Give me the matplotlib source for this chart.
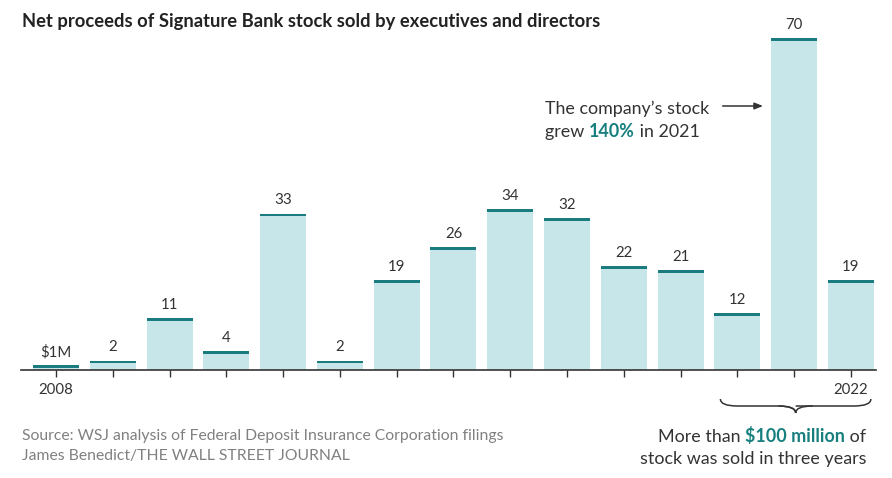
import numpy as np
import matplotlib.pyplot as plt
from matplotlib.path import Path
from matplotlib.patches import PathPatch
from matplotlib.transforms import IdentityTransform, blended_transform_factory

years = list(range(2008, 2023))
proceeds = [1, 2, 11, 4, 33, 2, 19, 26, 34, 32, 22, 21, 12, 70, 19]
labels = ['$1M', '2', '11', '4', '33', '2', '19', '26', '34', '32', '22', '21', '12', '70', '19']
tick_labels = {2008: '2008', 2022: '2022'}

bar_color = '#c6e6ea'
top_color = '#1b7c80'
text_color = '#333333'
teal = '#17807f'
font = 'Lato'

W, H = 892, 478
fig = plt.figure(figsize=(W / 100, H / 100), dpi=100)
ax = fig.add_axes([21 / W, (H - 370) / H, (876 - 21) / W, (370 - 30) / H])

x = np.arange(len(years))
ax.bar(x, proceeds, width=0.81, color=bar_color, zorder=1)
ax.bar(x, [0.6] * len(x), bottom=np.array(proceeds) - 0.6, width=0.81, color=top_color, zorder=2)
for xi, v, lab in zip(x, proceeds, labels):
    ax.text(xi, v + 1.3, lab, ha='center', va='bottom', fontsize=10.8,
            family=font, color=text_color)

ax.set_xlim(-0.616, 14.44)
ax.set_ylim(0, 71.7)
ax.set_xticks(x)
ax.set_xticklabels([tick_labels.get(y, '') for y in years], family=font, fontsize=10.8, color=text_color)
ax.tick_params(axis='x', length=5, width=1, color='#333333', pad=4)
ax.set_yticks([])
for s in ['top', 'right', 'left']:
    ax.spines[s].set_visible(False)
ax.spines['bottom'].set_color('#333333')
ax.spines['bottom'].set_linewidth(1.2)

fig.text(22 / W, (H - 27) / H, 'Net proceeds of Signature Bank stock sold by executives and directors',
         family=font, fontweight='bold', fontsize=13.2, color='#222222', va='baseline')

fig.text(22 / W, (H - 440) / H, 'Source: WSJ analysis of Federal Deposit Insurance Corporation filings',
         family=font, fontsize=11.3, color='#808080', va='baseline')
fig.text(22 / W, (H - 460) / H, 'James Benedict/THE WALL STREET JOURNAL',
         family=font, fontsize=11.3, color='#808080', va='baseline')

renderer = fig.canvas.get_renderer()


def rich_line(px, py, parts, size, ha='left'):
    # parts: list of (text, color, weight); px,py in pixels from top-left
    texts = []
    widths = []
    for s, c, w in parts:
        t = fig.text(0, 0, s, family=font, fontsize=size, color=c, fontweight=w,
                     va='baseline', transform=IdentityTransform())
        texts.append(t)
        widths.append(t.get_window_extent(renderer).width)
    total = sum(widths)
    cur = px - total if ha == 'right' else px
    for t, w in zip(texts, widths):
        t.set_position((cur, H - py))
        cur += w


rich_line(545, 114, [('The company\u2019s stock', text_color, 'normal')], 12.9)
rich_line(545, 137, [('grew ', text_color, 'normal'), ('140%', teal, 'bold'),
                     (' in 2021', text_color, 'normal')], 12.9)
rich_line(866, 442, [('More than ', text_color, 'normal'), ('$100 million', teal, 'bold'),
                     (' of', text_color, 'normal')], 12.9, ha='right')
rich_line(866, 464, [('stock was sold in three years', text_color, 'normal')], 12.9, ha='right')

# arrow toward the 2021 bar
arr_tr = blended_transform_factory(ax.transData, IdentityTransform())
ax.annotate('', xy=(12.45, H - 106), xytext=(11.74, H - 106), xycoords=arr_tr, textcoords=arr_tr,
            arrowprops=dict(arrowstyle='-|>,head_length=0.5,head_width=0.2', color='#333333', lw=1.1,
                            shrinkA=0, shrinkB=0),
            annotation_clip=False)

# brace under the last three years
x0, x1 = 11.7, 14.35
xm = (x0 + x1) / 2
y_top, y_mid, y_tip = H - 399, H - 406, H - 413
bt = blended_transform_factory(ax.transData, IdentityTransform())
verts = [(x0, y_top), (x0, y_mid), (x0 + 0.3, y_mid), (xm - 0.3, y_mid),
         (xm, y_mid), (xm, y_tip),
         (xm, y_mid), (xm + 0.3, y_mid),
         (x1 - 0.3, y_mid), (x1, y_mid), (x1, y_top)]
codes = [Path.MOVETO, Path.CURVE3, Path.CURVE3, Path.LINETO,
         Path.CURVE3, Path.CURVE3,
         Path.MOVETO, Path.LINETO,
         Path.LINETO, Path.CURVE3, Path.CURVE3]
ax.add_patch(PathPatch(Path(verts, codes), transform=bt, fill=False, edgecolor='#333333', lw=1.1, clip_on=False))
verts2 = [(xm - 0.3, y_mid), (xm, y_mid), (xm, y_tip), (xm, y_mid), (xm + 0.3, y_mid)]
codes2 = [Path.MOVETO, Path.CURVE3, Path.CURVE3, Path.CURVE3, Path.CURVE3]
ax.add_patch(PathPatch(Path(verts2, codes2), transform=bt, fill=False, edgecolor='#333333', lw=1.1, clip_on=False))

fig.savefig('out.png', dpi=100)
